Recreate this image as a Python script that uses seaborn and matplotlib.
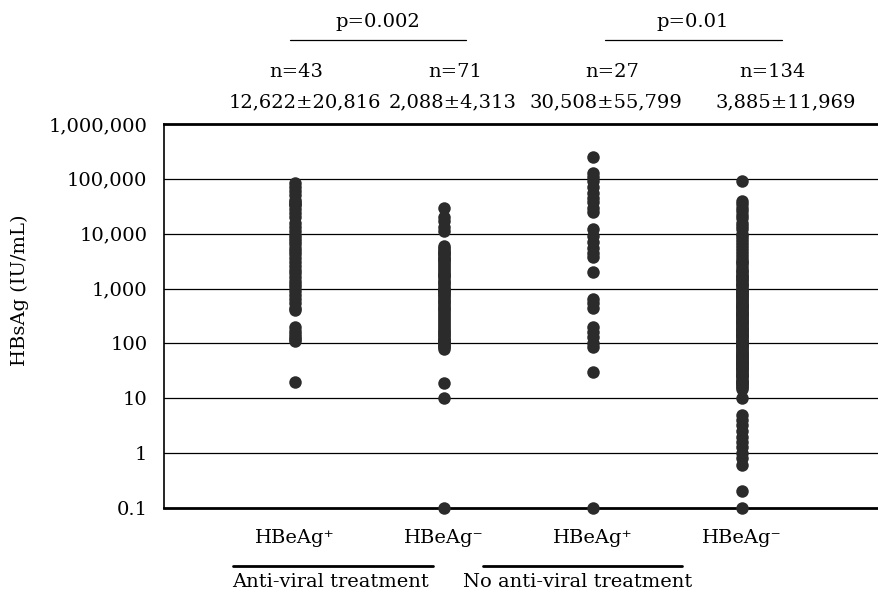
import numpy as np
import pandas as pd
import matplotlib
matplotlib.use('Agg')
import matplotlib.pyplot as plt
import seaborn as sns
from matplotlib.lines import Line2D

# HBsAg values (IU/mL)
av_pos = [85000, 70000, 60000, 50000, 42000, 38000, 35000, 33000, 28000, 24000,
          20000, 16000, 13000, 11000, 9500, 8500, 7500, 6500, 5500, 4800,
          4200, 3600, 3000, 2600, 2200, 1900, 1600, 1400, 1200, 1050,
          900, 750, 650, 550, 450, 400, 200, 170, 150, 130, 120, 110, 20]
av_neg = [30000, 20000, 17000, 13000, 11000,
          6000, 5500, 5000, 4600, 4500, 4200, 3900, 3600, 3500, 3300, 3000, 2800,
          2600, 2400, 2200, 2000, 1850, 1800, 1700, 1550, 1400, 1300, 1200,
          1100, 1000, 1000, 950, 900, 850, 800, 750, 700, 650, 600,
          560, 520, 480, 450, 420, 390, 360, 330, 300, 280,
          260, 240, 220, 200, 185, 170, 160, 150, 140, 130,
          120, 115, 110, 105, 100, 95, 90, 85, 80, 19, 10, 0.1]
noav_pos = [250000, 130000, 110000, 90000, 70000, 55000, 45000, 38000, 30000, 25000,
            12000, 9000, 7000, 5500, 4500, 3800, 2000, 650, 550, 450,
            200, 160, 130, 100, 85, 30, 0.1]
noav_neg = [90000,
            40000, 35000, 30000, 26000, 22000, 19000, 16000, 14000, 12000, 10000,
            9000, 8000, 7000, 6200, 5500, 4800, 4200, 3700, 3300, 2900,
            2600, 2300, 2000, 1800, 1600, 1450, 1300, 1150, 1000, 920,
            850, 780, 720, 660, 600, 550, 500, 460, 420, 390,
            360, 330, 300, 280, 260, 240, 220, 200, 185, 170,
            160, 150, 140, 130, 120, 112, 105, 98, 92, 86,
            80, 75, 70, 65, 60, 56, 52, 48, 45, 42,
            40, 38, 36, 34, 32, 30, 28, 26, 24, 22,
            20, 19, 18, 17, 16, 15,
            1500, 1200, 950, 700, 480, 350, 250, 190, 145, 110,
            88, 68, 54, 44, 35, 27, 21, 3000, 2100, 1700,
            1100, 800, 620, 520, 440, 380, 310, 270, 230, 175,
            135, 95, 62, 46,
            10, 5, 4, 3.2, 2.5, 2, 1.6, 1.3, 1, 0.8, 0.6, 0.2, 0.1]

groups = ['av_pos', 'av_neg', 'noav_pos', 'noav_neg']
group_labels = ['HBeAg\u207a', 'HBeAg\u207b', 'HBeAg\u207a', 'HBeAg\u207b']
n_labels = ['n=43', 'n=71', 'n=27', 'n=134']
mean_labels = ['12,622\u00b120,816', '2,088\u00b14,313', '30,508\u00b155,799', '3,885\u00b111,969']
yticks = [0.1, 1, 10, 100, 1000, 10000, 100000, 1000000]
ytick_labels = ['0.1', '1', '10', '100', '1,000', '10,000', '100,000', '1,000,000']

df = pd.DataFrame({
    'group': ['av_pos'] * len(av_pos) + ['av_neg'] * len(av_neg)
             + ['noav_pos'] * len(noav_pos) + ['noav_neg'] * len(noav_neg),
    'HBsAg': av_pos + av_neg + noav_pos + noav_neg,
})

sns.set_style('white')
plt.rcParams['font.family'] = ['DejaVu Serif']
plt.rcParams['text.color'] = 'black'
plt.rcParams['xtick.color'] = 'black'
plt.rcParams['ytick.color'] = 'black'
fs = 14

fig = plt.figure(figsize=(8.79, 5.92), dpi=100)
ax = fig.add_axes([164 / 879, 1 - 508 / 592, 1 - 164 / 879, (508 - 124) / 592])

sns.stripplot(data=df, x='group', y='HBsAg', order=groups, jitter=False,
              color='#2b2b2b', size=9, linewidth=0, ax=ax, clip_on=False, zorder=3,
              log_scale=True)

ax.set_yscale('log')
ax.set_ylim(0.1, 1000000)
ax.set_xlim(-0.88, 3.92)
ax.set_yticks(yticks)
ax.set_yticklabels(ytick_labels, fontsize=fs)
ax.minorticks_off()
ax.set_xticks(range(4))
ax.set_xticklabels(group_labels, fontsize=fs)
ax.tick_params(axis='y', length=0, pad=12)
ax.tick_params(axis='x', length=0, pad=15)
ax.set_xlabel('')
ax.set_ylabel('')
for y in yticks[1:-1]:
    ax.axhline(y, color='black', lw=0.9, zorder=1)
for side in ['left', 'top', 'bottom']:
    ax.spines[side].set_visible(True)
    ax.spines[side].set_color('black')
ax.spines['left'].set_linewidth(1.2)
ax.spines['top'].set_linewidth(2)
ax.spines['bottom'].set_linewidth(2)
ax.spines['right'].set_visible(False)

fig.text(20 / 879, 1 - 290 / 592, 'HBsAg (IU/mL)', rotation=90, ha='center', va='center', fontsize=fs)

# annotations above the plot
n_x = [296, 455, 612, 772]
m_x = [305, 453, 606, 786]
for x, t in zip(n_x, n_labels):
    fig.text(x / 879, 1 - 72 / 592, t, ha='center', va='center', fontsize=fs)
for x, t in zip(m_x, mean_labels):
    fig.text(x / 879, 1 - 102 / 592, t, ha='center', va='center', fontsize=fs)
fig.text(378 / 879, 1 - 22 / 592, 'p=0.002', ha='center', va='center', fontsize=fs)
fig.text(693 / 879, 1 - 22 / 592, 'p=0.01', ha='center', va='center', fontsize=fs)
fig.add_artist(Line2D([290 / 879, 466 / 879], [1 - 40 / 592] * 2, color='black', lw=0.9))
fig.add_artist(Line2D([605 / 879, 782 / 879], [1 - 40 / 592] * 2, color='black', lw=0.9))

# treatment labels below
fig.add_artist(Line2D([233 / 879, 433 / 879], [1 - 566 / 592] * 2, color='black', lw=2))
fig.add_artist(Line2D([483 / 879, 682 / 879], [1 - 566 / 592] * 2, color='black', lw=2))
fig.text(330 / 879, 1 - 582 / 592, 'Anti-viral treatment', ha='center', va='center', fontsize=fs)
fig.text(578 / 879, 1 - 582 / 592, 'No anti-viral treatment', ha='center', va='center', fontsize=fs)

fig.savefig('out.png', dpi=100)
